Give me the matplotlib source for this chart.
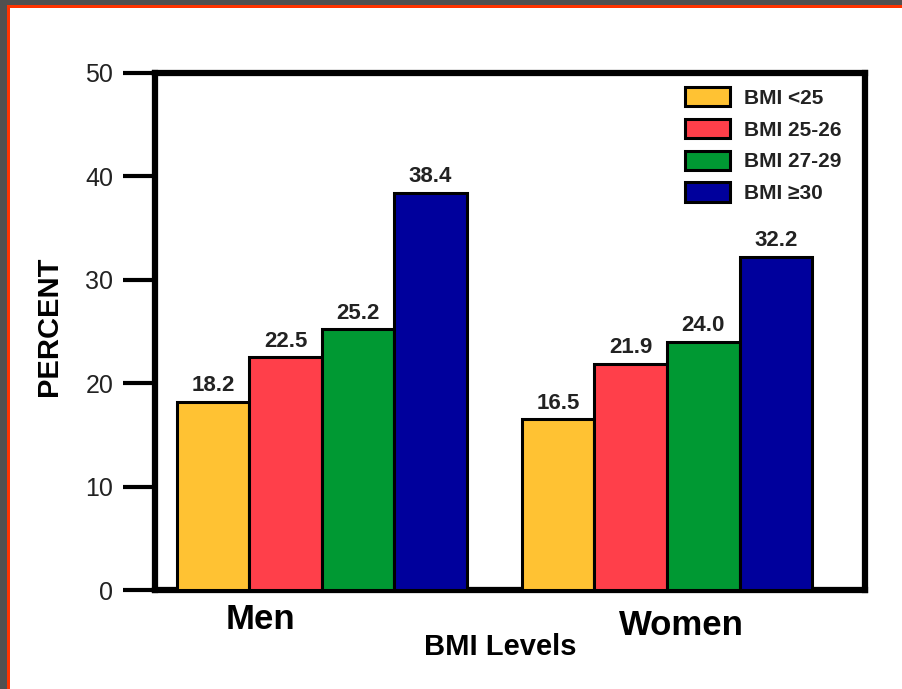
import numpy as np
import matplotlib
matplotlib.use('Agg')
import matplotlib.pyplot as plt
from matplotlib.patches import Rectangle

plt.rcParams['font.family'] = ['Liberation Sans', 'DejaVu Sans']

# Percent by sex and BMI class
groups = ['Men', 'Women']
bmi_labels = ['BMI <25', 'BMI 25-26', 'BMI 27-29', 'BMI \u226530']
men = [18.2, 22.5, 25.2, 38.4]
women = [16.5, 21.9, 24.0, 32.2]
colors = ['#FFC233', '#FF3F4A', '#009933', '#00009C']
yticks = [0, 10, 20, 30, 40, 50]

fig = plt.figure(figsize=(9.03, 6.89), dpi=100)
fig.patch.set_facecolor('white')

# Slide frame along top and left edges
H, W = 689.0, 903.0
fig.add_artist(Rectangle((0, 1 - 6 / H), 1, 6 / H, transform=fig.transFigure,
                         color='#505050', lw=0))
fig.add_artist(Rectangle((0, 0), 7 / W, 1, transform=fig.transFigure,
                         color='#505050', lw=0))
fig.add_artist(Rectangle((7 / W, 1 - 8 / H), 1, 2.5 / H, transform=fig.transFigure,
                         color='#FF3300', lw=0))
fig.add_artist(Rectangle((7 / W, 0), 2.5 / W, 1 - 6 / H, transform=fig.transFigure,
                         color='#FF3300', lw=0))

ax = fig.add_axes([155 / W, 1 - 590 / H, 710 / W, 517 / H])

width = 1.0
group_start = [0.8, 5.56]
for g, vals in enumerate([men, women]):
    for i, v in enumerate(vals):
        x = group_start[g] + i * width
        ax.bar(x, v, width=width, color=colors[i], edgecolor='black',
               linewidth=2.2, label=bmi_labels[i] if g == 0 else None,
               zorder=3)
        ax.annotate('%.1f' % v, (x, v), xytext=(0, 4), textcoords='offset points',
                    ha='center', va='bottom', fontsize=16, fontweight='bold',
                    color='#222222')

ax.set_xlim(0, 9.79)
ax.set_ylim(0, 50)
ax.set_yticks(yticks)
ax.set_yticklabels([str(t) for t in yticks], fontsize=18, color='#222222')
ax.tick_params(axis='y', length=23, width=3, pad=7, direction='out')
ax.set_xticks([])

for side in ['left', 'right', 'top', 'bottom']:
    ax.spines[side].set_linewidth(4.5)
    ax.spines[side].set_color('black')

ax.set_ylabel('PERCENT', fontsize=21, fontweight='bold')
ax.yaxis.set_label_coords(-0.129, 0.51)

# Group names under the axis
xt = ax.get_xaxis_transform()
ax.text(1.45, -0.058, groups[0], transform=xt, ha='center', va='center',
        fontsize=25, fontweight='bold')
ax.text(7.26, -0.068, groups[1], transform=xt, ha='center', va='center',
        fontsize=25, fontweight='bold')
ax.text(4.76, -0.110, 'BMI Levels', transform=xt, ha='center', va='center',
        fontsize=21, fontweight='bold')

leg = ax.legend(loc='upper left', bbox_to_anchor=(0.746, 0.973), frameon=False,
                fontsize=15, handlelength=2.2, handleheight=1.05,
                labelspacing=0.53, handletextpad=0.65, borderpad=0,
                borderaxespad=0)
for t in leg.get_texts():
    t.set_fontweight('bold')
    t.set_color('#222222')

fig.savefig('out.png', dpi=100)
